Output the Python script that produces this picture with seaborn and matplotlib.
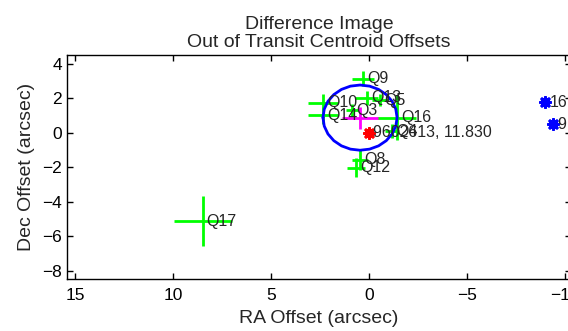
import numpy as np
import pandas as pd
import matplotlib
matplotlib.use("Agg")
import matplotlib.pyplot as plt
import seaborn as sns

# ---- data ----
quarters = ["Q3", "Q4", "Q5", "Q8", "Q9", "Q10", "Q12", "Q13", "Q14", "Q16", "Q17"]
q_ra = [0.88, -1.16, -0.55, 0.47, 0.31, 2.35, 0.68, 0.13, 2.35, -1.41, 8.50]
q_dec = [1.29, 0.08, 1.87, -1.57, 3.13, 1.74, -2.03, 2.03, 1.00, 0.86, -5.14]
q_ra_err = [0.30, 0.35, 0.40, 0.40, 0.55, 0.75, 0.45, 0.60, 0.75, 1.00, 1.48]
q_dec_err = [0.35, 0.40, 0.35, 0.60, 0.45, 0.50, 0.55, 0.40, 0.50, 1.30, 1.45]

mean_ra, mean_dec = [0.47], [0.87]
mean_ra_err, mean_dec_err = [0.94], [0.63]
circle_radius = 1.89

target_ra, target_dec = [0.0], [0.0]
target_label = ["9602613, 11.830"]

star_ra = [-8.97, -9.39]
star_dec = [1.77, 0.48]
star_labels = ["16", "9"]

x_ticks = [15, 10, 5, 0, -5, -10]
y_ticks = [4, 2, 0, -2, -4, -6, -8]

# ---- style ----
sns.set_theme(style="ticks")
plt.rcParams["font.family"] = ["Liberation Sans", "DejaVu Sans"]
plt.rcParams["axes.linewidth"] = 1.0

fig = plt.figure(figsize=(5.68, 3.31), dpi=100)
ax = fig.add_axes([66.7 / 568, 51.7 / 331, 504.5 / 568, 224.3 / 331])

GREEN = "#00ff00"

# quarter centroid crosses
ax.errorbar(q_ra, q_dec, xerr=q_ra_err, yerr=q_dec_err, fmt="none",
            ecolor=GREEN, elinewidth=2, capsize=0, zorder=2)
# mean offset (magenta)
ax.errorbar(mean_ra, mean_dec, xerr=mean_ra_err, yerr=mean_dec_err, fmt="none",
            ecolor="#ff00ff", elinewidth=2, capsize=0, zorder=3)
# 3-sigma circle around mean
th = np.linspace(0, 2 * np.pi, 25)
ax.plot(mean_ra[0] + circle_radius * np.cos(th), mean_dec[0] + circle_radius * np.sin(th),
        color="#0000ff", lw=2, zorder=4)

# target star and neighbouring stars
df_t = pd.DataFrame({"ra": target_ra, "dec": target_dec})
sns.scatterplot(data=df_t, x="ra", y="dec", ax=ax, marker=(8, 2, 0), s=50,
                color="#ff0000", edgecolor="#ff0000", linewidth=2.2, zorder=5)
df_s = pd.DataFrame({"ra": star_ra, "dec": star_dec})
sns.scatterplot(data=df_s, x="ra", y="dec", ax=ax, marker=(8, 2, 0), s=50,
                color="#0000ff", edgecolor="#0000ff", linewidth=2.2, zorder=5)

# labels
for lab, x, y in zip(quarters, q_ra, q_dec):
    ax.annotate(lab, (x, y), xytext=(3, 0), textcoords="offset points",
                va="center", ha="left", fontsize=11.5, zorder=6)
for lab, x, y in zip(target_label, target_ra, target_dec):
    ax.annotate(lab, (x, y), xytext=(3, 0), textcoords="offset points",
                va="center", ha="left", fontsize=11.5, zorder=6)
for lab, x, y in zip(star_labels, star_ra, star_dec):
    ax.annotate(lab, (x, y), xytext=(3, 0), textcoords="offset points",
                va="center", ha="left", fontsize=11.5, zorder=6)

ax.set_xlim(15.43, -10.3)
ax.set_ylim(-8.5, 4.5)
ax.set_xticks(x_ticks)
ax.set_yticks(y_ticks)
ax.tick_params(direction="in", length=4, width=1, top=True, right=True,
               labelsize=12.5, colors="black")
ax.tick_params(axis="x", pad=6)
for sp in ax.spines.values():
    sp.set_visible(True)
    sp.set_color("black")

ax.set_xlabel("RA Offset (arcsec)", fontsize=14, labelpad=5)
ax.set_ylabel("Dec Offset (arcsec)", fontsize=14, labelpad=5)
ax.set_title("Difference Image\nOut of Transit Centroid Offsets", fontsize=14,
             pad=6, linespacing=1.05)

fig.savefig("out.png", dpi=100)
